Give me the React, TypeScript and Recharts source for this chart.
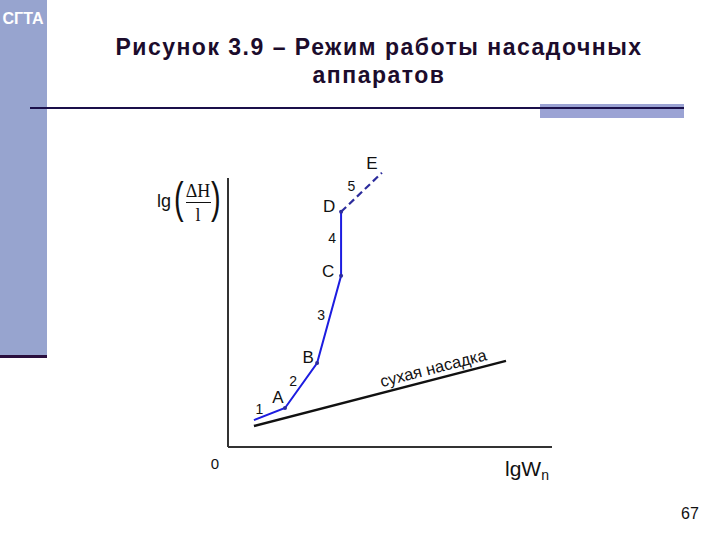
import React from 'react';
import { ComposedChart, Line, XAxis, YAxis, ReferenceLine, ReferenceDot } from 'recharts';

// working curve 1-A-B-C-D (solid) and D-E (dashed)
const curveX = [0.8, 1.76, 2.75, 3.49, 3.49];
const curveY = [1.0, 1.45, 3.12, 6.36, 8.74];
const pointNames = ['', 'A', 'B', 'C', 'D'];
const tailX = [3.49, 4.75];
const tailY = [8.74, 10.19];
const tailName = 'E';
const segmentNames = ['1', '2', '3', '4', '5'];

// dry packing line
const dryX = [0.8, 8.58];
const dryY = [0.78, 3.2];
const dryLabel = 'сухая насадка';

const xDomain = [0, 10];
const yDomain = [0, 11];
const yAxisTop = 10;

const slideTitle = ['Рисунок 3.9 – Режим работы насадочных', 'аппаратов'];
const pageNumber = '67';
const logoText = 'СГТА';

const FONT = "Arial, 'Liberation Sans', sans-serif";
const SERIF = "'Times New Roman', 'Liberation Serif', serif";
const BLUE = '#1c1ce0';
const NAVY = '#2c2c9c';

const curveData = curveX.map((x, i) => ({ x, y: curveY[i], name: pointNames[i] }));
const tailData = tailX.map((x, i) => ({ x, y: tailY[i] }));
const dryData = dryX.map((x, i) => ({ x, y: dryY[i] }));

const allX = [...curveX, tailX[1]];
const allY = [...curveY, tailY[1]];
const segMids = segmentNames.map((n, i) => ({
  name: n,
  x: (allX[i] + allX[i + 1]) / 2,
  y: (allY[i] + allY[i + 1]) / 2,
}));

const letterOffsets: Record<string, [number, number]> = {
  A: [-7, -10],
  B: [-9, -6],
  C: [-13, -4],
  D: [-12, -5],
  E: [-10, -9],
};
const numberOffsets: [number, number][] = [
  [-10, -5],
  [-8, -5],
  [-8, -4],
  [-9, -6],
  [-10, -6],
];

const dryT = 0.711;
const dryAnchor = {
  x: dryX[0] + (dryX[1] - dryX[0]) * dryT,
  y: dryY[0] + (dryY[1] - dryY[0]) * dryT,
};

const letterShape = (name: string) => (p: any) => {
  const [dx, dy] = letterOffsets[name];
  return (
    <text x={p.cx + dx} y={p.cy + dy} textAnchor="middle" dominantBaseline="central" fontSize={17} fontFamily={FONT} fill="#111">
      {name}
    </text>
  );
};

const SlideDecor = () => (
  <svg width={720} height={540} style={{ position: 'absolute', left: 0, top: 0 }}>
    <rect x={0} y={0} width={47} height={356} fill="#97a4cf" />
    <rect x={0} y={355} width={47} height={3} fill="#2a0f3e" />
    <text x={23} y={24} textAnchor="middle" fontSize={16} fontWeight="bold" fill="#fff" fontFamily={FONT}>
      {logoText}
    </text>
    <text x={379} y={55} textAnchor="middle" fontSize={23} fontWeight="bold" letterSpacing={1.5} fill="#1c0c2c" fontFamily={FONT}>
      {slideTitle[0]}
    </text>
    <text x={379} y={83} textAnchor="middle" fontSize={23} fontWeight="bold" letterSpacing={1.5} fill="#1c0c2c" fontFamily={FONT}>
      {slideTitle[1]}
    </text>
    <rect x={540} y={104} width={144} height={14} fill="#9ba3d4" />
    <rect x={30} y={107} width={654} height={2} fill="#1a0f4a" />
    <text x={690} y={519} textAnchor="middle" fontSize={16} fill="#111" fontFamily={FONT}>
      {pageNumber}
    </text>
    {/* y axis label lg(ΔH / l) */}
    <text x={157} y={207} fontSize={18} fill="#111" fontFamily={FONT}>lg</text>
    <text transform="translate(174 213) scale(1 1.5)" fontSize={29} fill="#111" fontFamily={FONT}>(</text>
    <text x={198} y={197} textAnchor="middle" fontSize={18} fill="#111" fontFamily={SERIF}>ΔH</text>
    <rect x={186} y={202} width={25} height={1} fill="#111" />
    <text x={198} y={221} textAnchor="middle" fontSize={18} fill="#111" fontFamily={SERIF}>l</text>
    <text transform="translate(211 213) scale(1 1.5)" fontSize={29} fill="#111" fontFamily={FONT}>)</text>
    {/* x axis labels */}
    <text x={215} y={469} textAnchor="middle" fontSize={15} fill="#111" fontFamily={FONT}>0</text>
    <text x={505} y={476} fontSize={21} fill="#111" fontFamily={FONT}>
      lgW<tspan fontSize={14} dy={4}>n</tspan>
    </text>
  </svg>
);

export default function App() {
  return (
    <div style={{ position: 'absolute', left: 0, top: 0, width: 720, height: 540, background: '#fff' }}>
      <SlideDecor />
      <div style={{ position: 'absolute', left: 0, top: 0 }}>
        <ComposedChart width={720} height={540} margin={{ top: 151, right: 168, bottom: 93, left: 228 }}>
          <XAxis type="number" dataKey="x" domain={xDomain} hide />
          <YAxis type="number" dataKey="y" domain={yDomain} hide />
          <ReferenceLine segment={[{ x: 0, y: 0 }, { x: xDomain[1], y: 0 }]} stroke="#333" strokeWidth={2} ifOverflow="visible" />
          <ReferenceLine segment={[{ x: 0, y: 0 }, { x: 0, y: yAxisTop }]} stroke="#333" strokeWidth={2} ifOverflow="visible" />
          <Line data={dryData} dataKey="y" type="linear" stroke="#111" strokeWidth={2.5} dot={false} isAnimationActive={false} />
          <Line
            data={curveData}
            dataKey="y"
            type="linear"
            stroke={BLUE}
            strokeWidth={2}
            isAnimationActive={false}
            dot={(p: any) =>
              p.index === 0 ? (
                <g key={`d${p.index}`} />
              ) : (
                <circle key={`d${p.index}`} cx={p.cx} cy={p.cy} r={2} fill={NAVY} />
              )
            }
          />
          <Line data={tailData} dataKey="y" type="linear" stroke={NAVY} strokeWidth={2.2} strokeDasharray="7 4" dot={false} isAnimationActive={false} />
          {curveData.slice(1).map((d) => (
            <ReferenceDot key={d.name} x={d.x} y={d.y} r={1} shape={letterShape(d.name)} />
          ))}
          <ReferenceDot x={tailX[1]} y={tailY[1]} r={1} shape={letterShape(tailName)} />
          {segMids.map((m, i) => (
            <ReferenceDot
              key={m.name}
              x={m.x}
              y={m.y}
              r={1}
              shape={(p: any) => (
                <text x={p.cx + numberOffsets[i][0]} y={p.cy + numberOffsets[i][1]} textAnchor="middle" dominantBaseline="central" fontSize={14} fontFamily={FONT} fill="#111">
                  {m.name}
                </text>
              )}
            />
          ))}
          <ReferenceDot
            x={dryAnchor.x}
            y={dryAnchor.y}
            r={1}
            shape={(p: any) => (
              <text
                transform={`translate(${p.cx} ${p.cy - 12}) rotate(-14.5)`}
                textAnchor="middle"
                dominantBaseline="central"
                fontSize={16.5}
                fontFamily={FONT}
                fill="#111"
              >
                {dryLabel}
              </text>
            )}
          />
        </ComposedChart>
      </div>
    </div>
  );
}
